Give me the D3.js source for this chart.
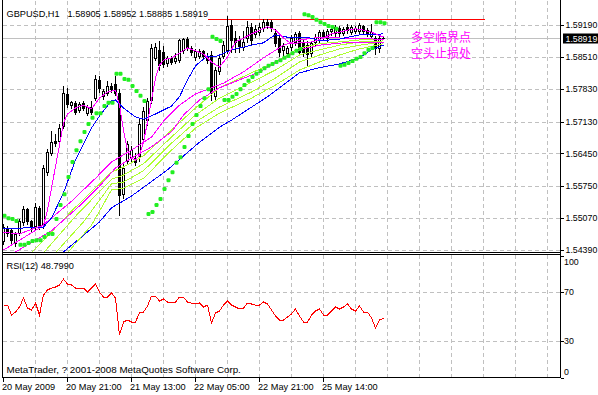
<!DOCTYPE html>
<html><head><meta charset="utf-8">
<script src="https://cdn.jsdelivr.net/npm/d3@7"></script>
<style>
html,body{margin:0;padding:0;background:#fff;}
svg{display:block;}
text{font-family:"Liberation Sans",Arial,sans-serif;font-size:9.2px;fill:#000;}
.ax{font-size:8.8px;}
.cjk{font-family:"Noto Sans CJK SC",sans-serif;font-size:12px;fill:#ff00ff;}
</style></head><body>
<svg id="c" width="598" height="395"></svg>
<script>
// ---------- data ----------
const symbol = "GBPUSD,H1";
const lastOHLC = [1.58905, 1.58952, 1.58885, 1.58919];
const opens = [1.5458,1.5486,1.5482,1.5454,1.5475,1.5499,1.5526,1.5501,1.5490,1.5529,
1.5492,1.5605,1.5646,1.5672,1.5672,1.5704,1.5772,1.5748,1.5753,1.5738,
1.5753,1.5731,1.5744,1.5763,1.5802,1.5768,1.5774,1.5789,1.5793,1.5774,
1.5558,1.5629,1.5637,1.5635,1.5640,1.5676,1.5716,1.5759,1.5849,1.5866,
1.5861,1.5838,1.5849,1.5842,1.5844,1.5866,1.5889,1.5870,1.5851,1.5853,
1.5864,1.5853,1.5855,1.5768,1.5821,1.5853,1.5866,1.5919,1.5891,1.5887,
1.5872,1.5891,1.5915,1.5900,1.5904,1.5913,1.5925,1.5925,1.5902,1.5891,
1.5866,1.5859,1.5872,1.5883,1.5902,1.5883,1.5876,1.5859,1.5883,1.5887,
1.5904,1.5891,1.5906,1.5902,1.5913,1.5902,1.5915,1.5904,1.5906,1.5906,
1.5917,1.5908,1.5896,1.5891,1.5870,1.58905];
const highs = [1.5497,1.5492,1.5486,1.5480,1.5507,1.5535,1.5531,1.5505,1.5541,1.5535,
1.5622,1.5657,1.5695,1.5689,1.5710,1.5791,1.5787,1.5759,1.5759,1.5757,
1.5759,1.5750,1.5759,1.5815,1.5813,1.5785,1.5802,1.5797,1.5813,1.5785,
1.5625,1.5674,1.5663,1.5648,1.5721,1.5746,1.5766,1.5881,1.5883,1.5887,
1.5876,1.5855,1.5855,1.5861,1.5891,1.5893,1.5896,1.5876,1.5870,1.5870,
1.5868,1.5861,1.5866,1.5831,1.5857,1.5887,1.5940,1.5932,1.5908,1.5898,
1.5908,1.5930,1.5925,1.5921,1.5925,1.5934,1.5934,1.5932,1.5913,1.5900,
1.5883,1.5876,1.5900,1.5906,1.5908,1.5891,1.5887,1.5887,1.5902,1.5911,
1.5911,1.5913,1.5917,1.5921,1.5919,1.5917,1.5923,1.5921,1.5919,1.5925,
1.5921,1.5915,1.5923,1.5898,1.5898,1.58952];
const lows = [1.5452,1.5469,1.5454,1.5448,1.5471,1.5492,1.5495,1.5480,1.5484,1.5484,
1.5486,1.5599,1.5642,1.5661,1.5665,1.5699,1.5744,1.5742,1.5729,1.5733,
1.5738,1.5727,1.5729,1.5759,1.5776,1.5761,1.5770,1.5776,1.5770,1.5514,
1.5550,1.5625,1.5627,1.5620,1.5629,1.5667,1.5706,1.5753,1.5844,1.5823,
1.5829,1.5831,1.5836,1.5838,1.5840,1.5859,1.5866,1.5855,1.5844,1.5849,
1.5846,1.5838,1.5759,1.5761,1.5815,1.5849,1.5859,1.5861,1.5861,1.5861,
1.5866,1.5883,1.5879,1.5893,1.5898,1.5906,1.5913,1.5906,1.5874,1.5853,
1.5849,1.5853,1.5866,1.5876,1.5855,1.5853,1.5834,1.5853,1.5876,1.5883,
1.5889,1.5883,1.5898,1.5896,1.5896,1.5898,1.5902,1.5900,1.5902,1.5902,
1.5900,1.5896,1.5891,1.5857,1.5861,1.58885];
const closes = [1.5488,1.5475,1.5460,1.5473,1.5501,1.5526,1.5501,1.5488,1.5531,1.5492,
1.5614,1.5648,1.5669,1.5667,1.5699,1.5774,1.5750,1.5755,1.5733,1.5750,
1.5742,1.5744,1.5733,1.5804,1.5785,1.5778,1.5789,1.5782,1.5774,1.5556,
1.5614,1.5665,1.5652,1.5627,1.5708,1.5735,1.5757,1.5870,1.5872,1.5834,
1.5836,1.5849,1.5840,1.5849,1.5887,1.5889,1.5870,1.5861,1.5864,1.5864,
1.5853,1.5844,1.5776,1.5823,1.5849,1.5876,1.5917,1.5887,1.5883,1.5874,
1.5883,1.5915,1.5887,1.5911,1.5915,1.5925,1.5919,1.5913,1.5881,1.5861,
1.5874,1.5870,1.5891,1.5900,1.5861,1.5861,1.5857,1.5881,1.5893,1.5904,
1.5896,1.5906,1.5911,1.5915,1.5902,1.5911,1.5908,1.5915,1.5913,1.5919,
1.5906,1.5900,1.5904,1.5870,1.5891,1.58919];

// moving averages: [bar index, price]
const maFast = [[0,1.5477],[2,1.5475],[4,1.5473],[6,1.5480],[8,1.5486],[10,1.5492],[11,1.5524],[12,1.5571],[14,1.5663],[15,1.5710],[16,1.5729],[18,1.5742],[20,1.5748],[22,1.5740],[24,1.5763],[26,1.5776],[28,1.5780],[29,1.5748],[30,1.5695],[31,1.5652],[32,1.5635],[33,1.5631],[34,1.5642],[35,1.5669],[36,1.5712],[37,1.5759],[38,1.5806],[39,1.5833],[40,1.5844],[42,1.5849],[44,1.5859],[46,1.5870],[48,1.5864],[50,1.5857],[52,1.5840],[54,1.5829],[56,1.5851],[58,1.5883],[60,1.5891],[62,1.5900],[64,1.5908],[66,1.5915],[68,1.5908],[70,1.5891],[72,1.5879],[74,1.5881],[76,1.5881],[78,1.5885],[80,1.5891],[82,1.5900],[84,1.5904],[86,1.5908],[88,1.5911],[90,1.5908],[92,1.5904],[94,1.5896],[95,1.5894]];
const maMid = [[0,1.5484],[10,1.5488],[12,1.5507],[15,1.5561],[18,1.5631],[22,1.5699],[24,1.5725],[27,1.5757],[28,1.5759],[30,1.5742],[33,1.5723],[35,1.5718],[37,1.5725],[42,1.5746],[44,1.5766],[46,1.5802],[48,1.5832],[51,1.5853],[53,1.5851],[55,1.5859],[57,1.5866],[60,1.5872],[62,1.5876],[65,1.5881],[67,1.5893],[68,1.5898],[71,1.5893],[74,1.5893],[77,1.5891],[79,1.5885],[84,1.5889],[89,1.5898],[95,1.5900]];
const maPink1 = [[0,1.5439],[9,1.5486],[17,1.5543],[23,1.5592],[27,1.5627],[32,1.5652],[37,1.5680],[40,1.5714],[44,1.5748],[48,1.5772],[52,1.5785],[55,1.5795],[60,1.5819],[65,1.5849],[70,1.5876],[74,1.5887],[79,1.5893],[85,1.5891],[90,1.5891],[95,1.5887]];
const maPink2 = [[3,1.5435],[12,1.5480],[19,1.5533],[24,1.5575],[28,1.5614],[32,1.5635],[37,1.5659],[42,1.5691],[45,1.5727],[49,1.5759],[54,1.5785],[59,1.5802],[64,1.5819],[69,1.5844],[74,1.5866],[79,1.5876],[85,1.5881],[90,1.5881],[95,1.5881]];
const maLime1 = [[7,1.5433],[17,1.5522],[27,1.5605],[30,1.5616],[35,1.5640],[42,1.5695],[48,1.5742],[54,1.5785],[62,1.5817],[68,1.5840],[74,1.5870],[79,1.5879],[84,1.5883],[89,1.5887],[95,1.5889]];
const maLime2 = [[10,1.5433],[18,1.5511],[27,1.5590],[30,1.5599],[35,1.5623],[42,1.5680],[48,1.5727],[54,1.5763],[62,1.5797],[68,1.5823],[74,1.5855],[79,1.5866],[84,1.5876],[89,1.5883],[95,1.5885]];
const maLime3 = [[13,1.5433],[20,1.5499],[27,1.5580],[30,1.5584],[35,1.5608],[42,1.5667],[48,1.5712],[54,1.5744],[62,1.5776],[68,1.5806],[74,1.5840],[79,1.5855],[84,1.5868],[89,1.5876],[95,1.5883]];
const maLime4 = [[16,1.5433],[22,1.5492],[27,1.5567],[30,1.5571],[35,1.5592],[42,1.5652],[48,1.5699],[54,1.5731],[62,1.5763],[68,1.5791],[74,1.5823],[79,1.5840],[84,1.5855],[89,1.5868],[95,1.5879]];
const maSlow = [[15,1.5435],[24,1.5499],[27,1.5529],[32,1.5554],[41,1.5610],[49,1.5669],[54,1.5701],[57,1.5716],[66,1.5766],[74,1.5817],[79,1.5828],[84,1.5836],[89,1.5849],[92,1.5866],[95,1.5876]];

const sar = [1.5512,1.5507,1.5505,1.5501,1.5450,1.5450,1.5454,1.5458,1.5460,1.5460,
1.5467,1.5473,1.5473,1.5505,1.5535,1.5558,1.5595,1.5627,1.5652,1.5671,
1.5691,1.5708,1.5721,1.5731,1.5731,1.5746,1.5753,1.5753,1.5815,1.5815,
1.5804,1.5802,1.5789,1.5778,1.5768,1.5757,1.5516,1.5520,1.5535,1.5548,
1.5569,1.5588,1.5605,1.5625,1.5637,1.5659,1.5682,1.5708,1.5727,1.5746,
1.5763,1.5782,1.5894,1.5889,1.5885,1.5759,1.5759,1.5766,1.5772,1.5782,
1.5791,1.5800,1.5808,1.5815,1.5821,1.5827,1.5832,1.5836,1.5840,1.5844,
1.5849,1.5853,1.5859,1.5864,1.5868,1.5942,1.5940,1.5936,1.5930,1.5925,
1.5921,1.5917,1.5915,1.5911,1.5832,1.5834,1.5838,1.5842,1.5847,1.5851,
1.5859,1.5866,1.5870,1.5925,1.5925,1.5923];

const rsi = [58.7,59.5,51.3,53.8,57.9,65.3,57.1,55.4,61.2,51.3,
67.8,71.9,73.5,74.3,76.0,80.9,76.8,76.0,73.5,73.5,
73.5,70.2,73.5,76.8,70.2,66.1,66.1,69.4,65.3,34.9,
45.6,47.2,45.6,45.6,53.0,53.8,58.7,66.9,66.9,62.8,
64.5,62.0,62.0,62.0,66.1,66.1,62.0,61.2,60.4,61.2,
57.9,59.5,44.8,53.0,54.6,59.5,62.8,59.5,57.9,56.3,
57.1,61.2,60.4,59.5,59.5,62.0,60.4,55.4,50.5,47.2,
47.2,49.7,52.2,56.3,50.5,45.6,45.6,51.3,54.6,56.3,
51.3,51.3,54.6,57.9,56.3,57.9,60.4,56.3,54.6,58.7,
53.8,53.8,48.9,40.7,47.2,48.8];
const rsiValue = "48.7990";

const priceTicks = [1.59190,1.58510,1.57830,1.57130,1.56450,1.55750,1.55070,1.54390];
const rsiTicks = [100,70,30,0];
const rsiGridLevels = [70,30];
const timeLabels = ["20 May 2009","20 May 21:00","21 May 13:00","22 May 05:00","22 May 21:00","25 May 14:00"];
const timeLabelBars = [0,16,32,48,64,80];
const redLevel = 1.5931, redLineBars = [51.1, 120.4];
const notes = ["多空临界点","空头止损处"];

// ---------- layout ----------
const L = 2.5, R = 560.5, mainBottom = 252.5, rsiTop = 254.5, rsiBottom = 377.5;
const x = d3.scaleLinear().domain([0,1]).range([3.5,7.5]);
const y = d3.scaleLinear().domain([1.5439,1.5919]).range([250,25]);
const yr = d3.scaleLinear().domain([0,100]).range([377.5,255.8]);
const Y = p => Math.round(y(p)) + 0.5;

const svg = d3.select("#c");
const defs = svg.append("defs");
defs.append("clipPath").attr("id","mainClip").append("rect").attr("x",3).attr("y",0).attr("width",557).attr("height",252);
defs.append("clipPath").attr("id","rsiClip").append("rect").attr("x",3).attr("y",255).attr("width",557).attr("height",122);

// grid
const grid = svg.append("g").attr("stroke","#c0c0c0").attr("stroke-dasharray","4,3").attr("shape-rendering","crispEdges");
const gridBars = d3.range(8, 140, 8).filter(b => x(b) < R);
gridBars.forEach(b => {
  grid.append("line").attr("x1",x(b)).attr("x2",x(b)).attr("y1",1).attr("y2",252);
  grid.append("line").attr("x1",x(b)).attr("x2",x(b)).attr("y1",255).attr("y2",377);
});
priceTicks.forEach(p => grid.append("line").attr("x1",3).attr("x2",R).attr("y1",Y(p)).attr("y2",Y(p)));
rsiGridLevels.forEach(v => { const yy = Math.round(yr(v))+0.5; grid.append("line").attr("x1",3).attr("x2",R).attr("y1",yy).attr("y2",yy); });

// current price line
svg.append("line").attr("x1",3).attr("x2",R).attr("y1",Y(lastOHLC[3])).attr("y2",Y(lastOHLC[3]))
  .attr("stroke","#c0c0c0").attr("shape-rendering","crispEdges");

// red horizontal level
svg.append("line").attr("x1",x(redLineBars[0])).attr("x2",x(redLineBars[1])).attr("y1",Y(redLevel)).attr("y2",Y(redLevel))
  .attr("stroke","#ff0000").attr("shape-rendering","crispEdges");

// moving averages
const main = svg.append("g").attr("clip-path","url(#mainClip)");
const line = d3.line().x(d => x(d[0])).y(d => y(d[1]));
const maDefs = [
  [maSlow,"#0000ff"],[maLime4,"#adff2f"],[maLime3,"#adff2f"],[maLime2,"#adff2f"],[maLime1,"#adff2f"],
  [maPink2,"#ff00ff"],[maPink1,"#ff00ff"],[maMid,"#0000ff"],[maFast,"#ff00ff"]
];

// candles
const cg = main.append("g").attr("shape-rendering","crispEdges");
opens.forEach((o,i) => {
  const c = closes[i], cx = x(i);
  cg.append("line").attr("x1",cx).attr("x2",cx).attr("y1",Y(highs[i])).attr("y2",Y(lows[i])).attr("stroke","#000");
  const top = Y(Math.max(o,c)), bot = Y(Math.min(o,c));
  if (bot - top < 1) {
    cg.append("line").attr("x1",cx-1.5).attr("x2",cx+1.5).attr("y1",top).attr("y2",top).attr("stroke","#000");
  } else {
    cg.append("rect").attr("x",cx-1).attr("y",top).attr("width",2).attr("height",bot-top)
      .attr("fill", c >= o ? "#fff" : "#000").attr("stroke","#000");
  }
});

maDefs.forEach(([d,col]) => {
  main.append("path").attr("d",line(d)).attr("fill","none").attr("stroke",col).attr("stroke-width",1)
    .attr("shape-rendering","crispEdges");
});

// parabolic SAR
main.append("g").selectAll("rect").data(sar).join("rect")
  .attr("x",(d,i)=>x(i)-1).attr("y",d=>y(d)-2).attr("width",4).attr("height",4).attr("rx",1.2)
  .attr("fill","#22ee22");

// RSI
svg.append("g").attr("clip-path","url(#rsiClip)").append("path")
  .attr("d", d3.line().x((d,i)=>x(i)).y(d=>yr(d))(rsi))
  .attr("fill","none").attr("stroke","#ff0000").attr("stroke-width",1).attr("shape-rendering","crispEdges");

// frames
const fr = svg.append("g").attr("stroke","#000").attr("fill","none").attr("shape-rendering","crispEdges");
fr.append("line").attr("x1",L).attr("x2",L).attr("y1",0).attr("y2",rsiBottom);
fr.append("line").attr("x1",R).attr("x2",R).attr("y1",0).attr("y2",rsiBottom);
fr.append("line").attr("x1",L).attr("x2",R).attr("y1",mainBottom).attr("y2",mainBottom);
fr.append("line").attr("x1",L).attr("x2",R).attr("y1",rsiTop).attr("y2",rsiTop);
fr.append("line").attr("x1",L).attr("x2",R).attr("y1",rsiBottom).attr("y2",rsiBottom);

// right price axis
priceTicks.forEach(p => {
  fr.append("line").attr("x1",R).attr("x2",R+3).attr("y1",Y(p)).attr("y2",Y(p));
  svg.append("text").attr("class","ax").attr("x",565.5).attr("y",y(p)).attr("dy","0.35em").text(p.toFixed(5));
});
// current price marker
const cy = Y(lastOHLC[3]);
svg.append("rect").attr("x",563).attr("y",cy-5).attr("width",35).attr("height",10).attr("fill","#000");
svg.append("text").attr("class","ax").attr("x",565.5).attr("y",cy).attr("dy","0.35em").style("fill","#fff").text(lastOHLC[3].toFixed(5));

// RSI axis
rsiTicks.forEach(v => {
  const yy = Math.min(Math.max(yr(v), rsiTop+7), rsiBottom-6);
  fr.append("line").attr("x1",R).attr("x2",R+3).attr("y1",Math.round(yr(v))+0.5).attr("y2",Math.round(yr(v))+0.5);
  svg.append("text").attr("class","ax").attr("x",564).attr("y",yy).attr("dy","0.35em").text(v);
});

// time axis
timeLabels.forEach((t,k) => {
  const bx = x(timeLabelBars[k]);
  fr.append("line").attr("x1",bx).attr("x2",bx).attr("y1",rsiBottom).attr("y2",rsiBottom+4);
  svg.append("text").attr("x",bx-1.5).attr("y",390).text(t);
});

// titles
svg.append("text").attr("x",6.5).attr("y",16.5).text(symbol);
svg.append("text").attr("x",67.5).attr("y",16.5).text(lastOHLC.map(v=>v.toFixed(5)).join(" "));
svg.append("text").attr("x",6.5).attr("y",268.5).text("RSI(12) " + rsiValue);
svg.append("text").attr("x",6.5).attr("y",373).style("font-size","9.8px").text("MetaTrader, ? 2001-2008 MetaQuotes Software Corp.");

// annotations
notes.forEach((t,k) => svg.append("text").attr("class","cjk").attr("x",411).attr("y",41.5 + k*16.5).text(t));
</script>
</body></html>
